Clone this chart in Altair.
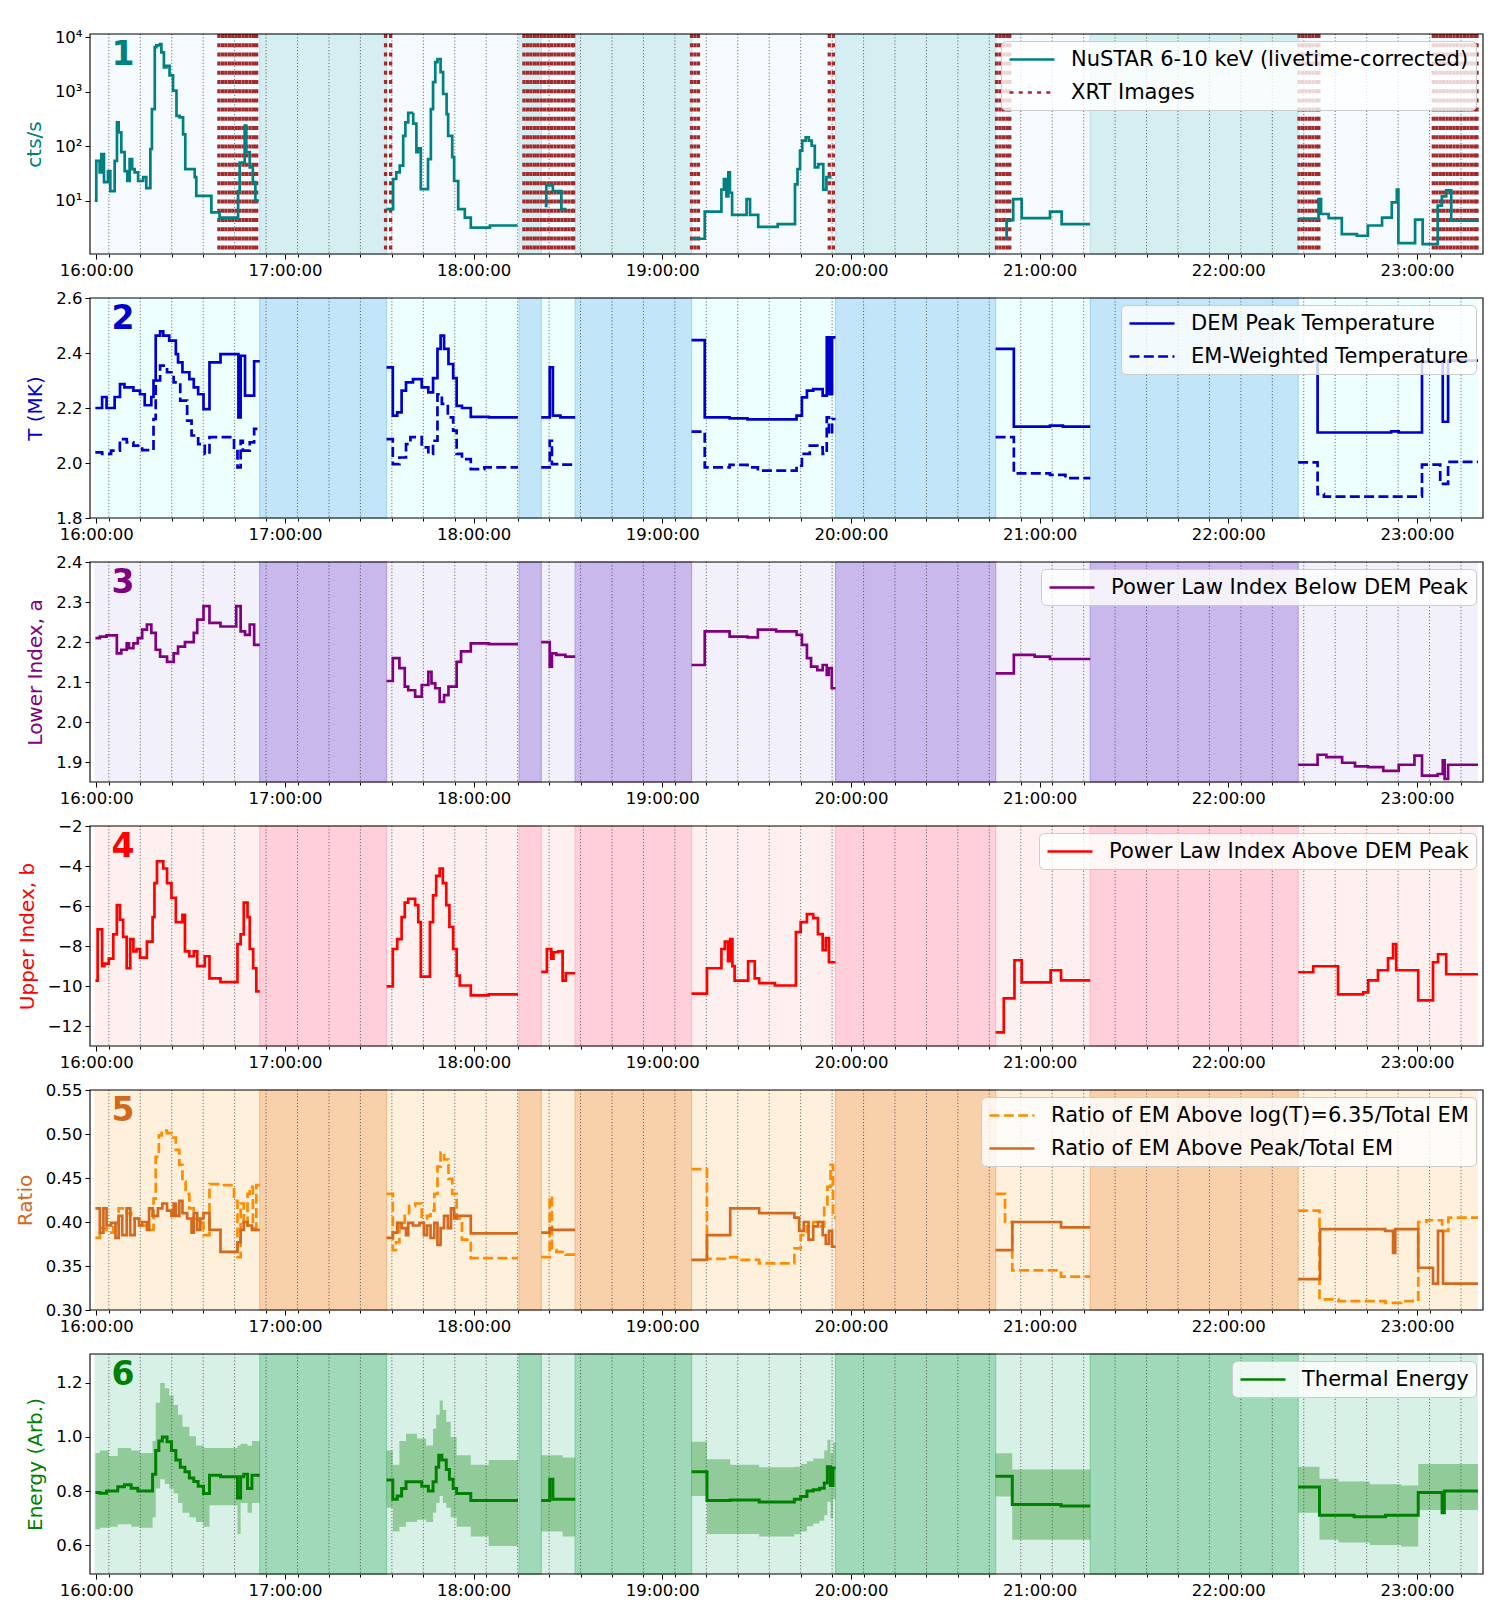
import altair as alt
import pandas as pd

FONT = "DejaVu Sans"
W, H = 1393, 220
XDOM = [-2.0, 441.0]

# ---------------- time layout (minutes after 16:00:00) ----------------
LIGHT_SPANS = [(-0.6, 52.0), (92.3, 134.5), (141.5, 152.3), (189.3, 235.1), (286.0, 316.1), (382.2, 439.4)]
DARK_SPANS = [(52.0, 92.3), (134.5, 141.5), (152.3, 189.3), (235.1, 286.0), (316.1, 382.2)]
HOUR_TICKS = [0, 60, 120, 180, 240, 300, 360, 420]
MINOR_TICKS = [4, 14, 24, 34, 44, 54, 64, 74, 84, 94, 104, 114, 124, 134, 144, 154, 164, 174, 184, 194,
               204, 214, 224, 234, 244, 254, 264, 274, 284, 294, 304, 314, 324, 334, 344, 354, 364, 374,
               384, 394, 404, 414, 424, 434]

# ---------------- panel 1: NuSTAR 6-10 keV (cts/s) ----------------
NUSTAR = [
    [(-0.5, 10), (0.0, 54), (1.07, 33), (1.60, 72), (2.45, 22), (3.72, 35), (4.46, 15), (5.84, 54),
     (6.58, 275), (7.11, 180), (7.96, 78), (9.02, 35), (9.87, 23), (10.6, 58), (11.4, 38), (12.2, 33),
     (13.3, 23), (14.9, 27), (15.9, 17), (17.2, 89), (17.7, 480), (18.6, 6600), (19.1, 7100),
     (20.2, 7500), (20.7, 5300), (21.5, 2800), (22.3, 3000), (23.3, 2000), (24.4, 1050), (25.5, 360),
     (26.5, 340), (27.6, 165), (28.3, 38), (31.3, 27), (31.8, 12.3), (36.6, 6.1), (39.2, 4.9),
     (45.1, 15), (45.6, 50), (47.2, 240), (47.7, 78), (48.8, 41), (49.8, 22), (50.6, 10), (51.7, 10)],
    [(92.3, 7.0), (94.4, 25), (95.4, 33), (96.5, 44), (97.6, 155), (98.3, 275), (99.2, 410),
     (100.8, 260), (101.8, 78), (102.3, 91), (103.2, 16.3), (105.5, 58), (106.4, 480), (107.1, 1500),
     (107.8, 3500), (108.5, 4000), (109.5, 2300), (110.3, 910), (111.4, 390), (111.9, 155),
     (113.2, 63), (113.8, 23), (115.1, 7.0), (117.2, 4.9), (119.1, 3.2), (125.2, 3.5), (134.0, 3.5)],
    [(142.6, 8), (143.1, 19), (145.2, 15), (147.9, 7), (149.5, 7)],
    [(189.3, 2.0), (193.5, 6.3), (198.8, 16), (199.6, 25), (200.4, 12), (201.0, 33), (201.5, 14),
     (202.2, 5.5), (206.8, 10.7), (207.9, 5.5), (210.5, 3.3), (216.7, 3.7), (222.2, 20), (223.0, 38),
     (223.8, 83), (224.5, 127), (225.6, 145), (226.6, 127), (227.5, 102), (228.5, 41), (229.6, 47),
     (231.2, 16), (232.2, 27), (233.8, 27)],
    [(289.0, 2.0), (289.5, 4.4), (291.6, 10.7), (294.3, 4.8), (303.3, 6.3), (307.0, 3.7), (316.0, 3.7)],
    [(382.3, 4.7), (388.7, 10.7), (389.5, 5.7), (391.9, 4.8), (396.1, 2.44), (400.9, 2.27), (404.4, 3.5),
     (408.9, 4.9), (412.0, 9.3), (413.6, 16), (414.1, 1.66), (419.4, 4.5), (421.8, 1.6), (426.6, 8.1),
     (427.9, 12), (429.3, 15.5), (430.9, 4.3), (439.6, 4.3)],
]
XRT_TIMES = [39.0, 40.1, 41.2, 42.3, 43.4, 44.5, 45.6, 46.7, 47.8, 48.9, 50.0, 51.0,
             92.0, 93.6,
             136.0, 137.1, 138.2, 139.3, 140.4, 141.5, 142.6, 143.7, 144.8, 145.9, 147.0, 148.1,
             149.2, 150.3, 151.4, 151.8,
             189.3, 190.4, 191.5,
             233.1, 234.4,
             286.3, 287.4, 288.5, 289.6, 290.5,
             382.5, 383.6, 384.7, 385.8, 386.9, 388.0, 388.8,
             425.2, 426.3, 427.4, 428.5, 429.6, 430.7, 431.8, 432.9, 434.0, 435.1, 436.2, 437.3,
             438.4, 439.1]

# ---------------- panel 2: temperatures (MK) ----------------
T_PEAK = [
    [(-0.3, 2.20), (1.85, 2.24), (3.27, 2.20), (5.83, 2.24), (7.54, 2.287), (8.96, 2.275), (11.8, 2.263),
     (13.9, 2.25), (15.4, 2.21), (17.5, 2.24), (18.2, 2.30), (18.9, 2.463), (20.3, 2.479), (21.3, 2.463),
     (23.2, 2.445), (25.3, 2.396), (26.0, 2.366), (27.4, 2.33), (29.6, 2.305), (31.0, 2.275), (32.4, 2.25),
     (34.1, 2.196), (36.0, 2.366), (39.5, 2.396), (45.2, 2.166), (45.9, 2.39), (47.3, 2.245),
     (50.2, 2.37), (52.0, 2.37)],
    [(92.3, 2.348), (94.3, 2.172), (95.7, 2.184), (97.1, 2.263), (98.5, 2.293), (100.7, 2.305),
     (103.5, 2.275), (105.6, 2.257), (107.1, 2.309), (108.5, 2.415), (109.5, 2.463), (110.6, 2.415),
     (112.0, 2.36), (113.5, 2.309), (114.6, 2.208), (116.3, 2.20), (119.1, 2.168), (124.8, 2.166),
     (134.1, 2.166)],
    [(141.5, 2.166), (144.2, 2.348), (145.2, 2.172), (147.6, 2.166), (152.3, 2.166)],
    [(189.3, 2.447), (193.5, 2.166), (201.4, 2.162), (207.1, 2.159), (222.7, 2.172), (224.4, 2.239),
     (226.0, 2.263), (228.0, 2.269), (231.0, 2.245), (232.3, 2.457), (232.7, 2.25), (233.1, 2.457),
     (233.6, 2.25), (234.0, 2.457), (235.1, 2.457)],
    [(286.0, 2.415), (291.8, 2.132), (303.3, 2.136), (307.4, 2.132), (316.1, 2.132)],
    [(382.2, 2.372), (388.4, 2.111), (411.8, 2.115), (414.2, 2.111), (421.6, 2.368), (428.2, 2.15),
     (429.9, 2.372), (439.4, 2.372)],
]
T_EM = [
    [(-0.3, 2.039), (1.85, 2.033), (4.7, 2.045), (7.5, 2.087), (9.7, 2.075), (11.8, 2.063), (14.6, 2.047),
     (18.2, 2.16), (18.9, 2.30), (20.3, 2.354), (22.5, 2.33), (24.6, 2.293), (26.7, 2.227), (28.9, 2.154),
     (30.3, 2.10), (32.4, 2.069), (34.5, 2.033), (36.0, 2.094), (43.8, 2.05), (44.9, 1.984),
     (45.9, 2.081), (46.6, 2.045), (48.8, 2.075), (50.2, 2.124), (52.0, 2.124)],
    [(92.3, 2.087), (94.3, 1.996), (96.4, 2.02), (98.5, 2.069), (99.9, 2.094), (103.5, 2.057),
     (105.6, 2.033), (107.1, 2.081), (108.5, 2.25), (109.9, 2.215), (111.8, 2.166), (113.5, 2.118),
     (114.6, 2.033), (116.3, 2.014), (119.1, 1.978), (123.4, 1.984), (134.1, 1.984)],
    [(141.5, 1.984), (144.2, 2.081), (144.9, 1.996), (147.6, 1.994), (152.3, 1.994)],
    [(189.3, 2.114), (193.5, 1.984), (201.4, 1.993), (207.1, 1.984), (210.4, 1.972), (222.7, 1.99),
     (224.4, 2.033), (226.9, 2.063), (229.3, 2.057), (231.0, 2.033), (232.3, 2.166), (233.0, 2.105),
     (234.0, 2.16), (235.1, 2.16)],
    [(286.0, 2.094), (291.8, 1.962), (303.3, 1.957), (308.2, 1.945), (316.1, 1.945)],
    [(382.2, 2.002), (388.4, 1.887), (390.4, 1.878), (421.6, 1.994), (427.4, 1.924), (429.9, 2.004),
     (439.4, 2.004)],
]

# ---------------- panel 3: lower power-law index ----------------
LOWER = [
    [(-0.28, 2.21), (1.14, 2.214), (3.27, 2.217), (6.54, 2.172), (7.96, 2.181), (9.67, 2.197), (10.4, 2.185),
     (11.8, 2.197), (13.2, 2.21), (14.6, 2.231), (16.1, 2.244), (17.5, 2.223), (18.9, 2.181), (20.3, 2.164),
     (22.5, 2.151), (24.6, 2.172), (26.0, 2.189), (28.2, 2.20), (31.0, 2.223), (32.1, 2.256), (34.1, 2.29),
     (36.0, 2.248), (39.5, 2.239), (44.5, 2.29), (45.9, 2.227), (47.3, 2.218), (48.8, 2.244),
     (50.2, 2.193), (52.0, 2.193)],
    [(92.3, 2.103), (94.3, 2.16), (96.4, 2.135), (98.1, 2.089), (99.2, 2.08), (101.4, 2.064), (103.5, 2.093),
     (105.6, 2.126), (106.6, 2.097), (107.8, 2.085), (109.2, 2.051), (110.6, 2.068), (112.0, 2.089),
     (114.6, 2.151), (116.0, 2.177), (119.1, 2.197), (124.8, 2.195), (134.1, 2.195)],
    [(141.5, 2.20), (144.2, 2.139), (144.9, 2.172), (146.3, 2.168), (149.2, 2.164), (152.3, 2.164)],
    [(189.3, 2.143), (193.5, 2.227), (201.4, 2.214), (207.1, 2.212), (210.4, 2.231), (216.2, 2.227),
     (222.7, 2.218), (224.4, 2.193), (226.0, 2.16), (227.3, 2.139), (229.3, 2.13), (231.0, 2.143),
     (232.3, 2.118), (232.9, 2.135), (233.9, 2.085), (235.1, 2.085)],
    [(286.0, 2.122), (291.8, 2.168), (298.4, 2.164), (303.3, 2.158), (316.1, 2.158)],
    [(382.2, 1.894), (388.4, 1.919), (391.2, 1.913), (396.2, 1.899), (400.3, 1.890), (404.4, 1.888),
     (409.3, 1.879), (414.2, 1.894), (419.2, 1.917), (421.6, 1.867), (426.6, 1.871), (428.2, 1.905),
     (428.8, 1.859), (429.9, 1.894), (439.4, 1.894)],
]

# ---------------- panel 4: upper power-law index ----------------
UPPER = [
    [(-0.28, -9.72), (0.43, -7.16), (1.85, -8.99), (2.56, -8.87), (3.98, -8.62), (5.40, -7.41), (6.54, -5.95),
     (7.54, -6.68), (8.53, -7.53), (9.67, -9.1), (10.8, -7.65), (11.8, -8.26), (12.8, -8.14), (13.9, -8.57),
     (16.1, -7.77), (17.9, -6.55), (18.5, -4.85), (19.3, -3.76), (21.3, -4.12), (22.5, -4.85), (23.9, -5.58),
     (25.3, -6.8), (27.4, -6.43), (28.2, -8.26), (29.6, -8.5), (31.0, -8.26), (32.1, -8.99), (34.5, -8.5),
     (36.0, -9.6), (39.5, -9.79), (44.9, -7.9), (45.9, -7.41), (46.9, -5.82), (48.1, -6.55), (48.8, -8.14),
     (49.9, -9.1), (50.9, -10.25), (52.0, -10.25)],
    [(92.3, -10.0), (94.3, -8.14), (95.7, -7.65), (97.1, -6.55), (98.1, -5.82), (99.2, -5.63), (101.4, -5.95),
     (102.4, -6.8), (103.2, -9.52), (106.1, -6.8), (107.1, -5.46), (108.1, -4.49), (109.2, -4.12),
     (110.2, -4.85), (111.3, -5.95), (112.3, -7.04), (113.5, -8.14), (114.6, -9.47), (115.6, -9.96),
     (119.1, -10.45), (124.8, -10.4), (134.1, -10.4)],
    [(141.5, -9.28), (143.3, -8.14), (144.7, -8.62), (145.4, -8.3), (146.9, -8.26), (148.3, -9.72),
     (149.3, -9.35), (152.3, -9.35)],
    [(189.3, -10.37), (194.2, -9.1), (198.8, -8.14), (199.9, -7.77), (200.9, -8.75), (201.6, -7.65),
     (202.3, -8.99), (203.0, -9.72), (207.3, -8.75), (209.4, -9.6), (210.8, -9.84), (215.8, -9.96),
     (222.5, -7.3), (224.0, -6.8), (226.0, -6.4), (228.0, -6.6), (229.5, -7.4), (231.0, -8.2),
     (232.0, -7.6), (233.0, -8.8), (235.1, -8.8)],
    [(286.0, -12.3), (288.6, -10.6), (292.0, -8.7), (294.3, -9.8), (303.5, -9.2), (306.8, -9.7),
     (316.1, -9.7)],
    [(382.2, -9.3), (387.0, -9.0), (394.9, -10.4), (402.9, -10.3), (404.5, -9.7), (407.6, -9.2),
     (410.8, -8.6), (412.4, -7.9), (413.4, -9.2), (420.4, -10.7), (425.1, -8.8), (426.7, -8.4),
     (429.3, -9.4), (439.4, -9.4)],
]

# ---------------- panel 5: EM ratios ----------------
RATIO_635 = [
    [(-0.28, 0.382), (1.14, 0.393), (3.27, 0.388), (5.40, 0.399), (7.11, 0.4155), (9.67, 0.41), (11.1, 0.404),
     (13.6, 0.396), (16.8, 0.391), (18.2, 0.4265), (18.9, 0.474), (19.9, 0.4985), (20.8, 0.504),
     (22.5, 0.501), (23.9, 0.496), (25.3, 0.482), (26.4, 0.465), (27.4, 0.446), (28.4, 0.432),
     (29.6, 0.4155), (31.0, 0.404), (32.4, 0.399), (34.1, 0.385), (36.0, 0.443), (39.5, 0.442),
     (43.8, 0.424), (44.9, 0.360), (45.9, 0.421), (46.9, 0.396), (48.1, 0.432), (48.8, 0.44),
     (49.8, 0.393), (50.9, 0.442), (52.0, 0.442)],
    [(92.3, 0.432), (94.3, 0.368), (95.3, 0.377), (96.4, 0.399), (98.1, 0.41), (99.5, 0.418), (101.4, 0.421),
     (103.5, 0.404), (105.2, 0.407), (106.3, 0.413), (107.5, 0.432), (108.5, 0.463), (109.5, 0.479),
     (110.6, 0.471), (112.0, 0.449), (113.2, 0.432), (114.6, 0.404), (116.3, 0.380), (119.1, 0.359),
     (134.1, 0.359)],
    [(141.5, 0.360), (144.2, 0.429), (144.9, 0.368), (146.3, 0.366), (149.2, 0.363), (152.3, 0.363)],
    [(189.3, 0.46), (194.2, 0.358), (201.6, 0.36), (203.7, 0.357), (210.8, 0.353), (222.0, 0.37),
     (224.0, 0.385), (226.0, 0.395), (228.0, 0.40), (230.0, 0.395), (231.5, 0.42), (232.5, 0.44),
     (233.5, 0.465), (234.3, 0.405), (235.1, 0.405)],
    [(286.0, 0.432), (289.0, 0.40), (291.3, 0.345), (306.8, 0.338), (316.1, 0.338)],
    [(382.2, 0.413), (389.0, 0.312), (395.0, 0.31), (410.0, 0.308), (415.0, 0.31), (420.4, 0.40),
     (423.0, 0.402), (428.0, 0.39), (430.0, 0.405), (439.4, 0.405)],
]
RATIO_PEAK = [
    [(-0.28, 0.4155), (1.14, 0.388), (2.27, 0.4155), (3.27, 0.396), (4.69, 0.399), (6.11, 0.382), (7.11, 0.407),
     (8.25, 0.385), (9.67, 0.4155), (10.8, 0.385), (12.2, 0.404), (13.6, 0.396), (14.6, 0.40), (16.1, 0.391),
     (16.8, 0.4155), (17.9, 0.407), (19.6, 0.4155), (21.0, 0.421), (22.5, 0.413), (23.9, 0.407),
     (24.6, 0.421), (25.3, 0.407), (26.4, 0.424), (27.4, 0.41), (28.9, 0.404), (30.3, 0.388), (31.0, 0.41),
     (32.1, 0.391), (33.1, 0.404), (34.1, 0.41), (36.0, 0.391), (39.5, 0.366), (44.9, 0.377),
     (45.9, 0.391), (46.9, 0.40), (48.1, 0.396), (49.5, 0.391), (52.0, 0.391)],
    [(92.3, 0.382), (94.3, 0.388), (95.7, 0.399), (97.1, 0.393), (98.5, 0.385), (99.2, 0.399),
     (100.7, 0.396), (102.8, 0.399), (104.2, 0.385), (105.2, 0.396), (106.3, 0.382), (107.5, 0.399),
     (108.5, 0.374), (109.5, 0.393), (110.6, 0.407), (111.8, 0.393), (112.8, 0.4155), (113.8, 0.404),
     (114.6, 0.407), (119.1, 0.387), (134.1, 0.387)],
    [(141.5, 0.388), (144.2, 0.393), (144.9, 0.391), (152.3, 0.391)],
    [(189.3, 0.357), (194.2, 0.385), (201.6, 0.4155), (210.8, 0.41), (222.0, 0.405), (223.5, 0.39),
     (225.0, 0.40), (226.5, 0.38), (228.0, 0.395), (229.5, 0.40), (231.0, 0.385), (232.0, 0.375),
     (233.0, 0.39), (234.0, 0.372), (235.1, 0.372)],
    [(286.0, 0.368), (291.3, 0.40), (306.8, 0.394), (316.1, 0.394)],
    [(382.2, 0.335), (389.2, 0.392), (409.9, 0.39), (412.4, 0.365), (413.1, 0.392), (420.4, 0.348),
     (425.1, 0.33), (426.7, 0.39), (428.3, 0.33), (439.4, 0.33)],
]

# ---------------- panel 6: thermal energy ----------------
ENERGY = [
    [(-0.28, 0.795), (1.14, 0.792), (3.27, 0.80), (6.82, 0.816), (8.96, 0.823), (11.1, 0.81), (13.2, 0.80),
     (17.9, 0.862), (18.9, 0.95), (19.9, 0.985), (21.0, 1.0), (22.5, 0.982), (23.9, 0.95), (25.3, 0.915),
     (26.7, 0.888), (28.2, 0.871), (29.6, 0.848), (31.0, 0.835), (32.4, 0.818), (34.1, 0.791),
     (36.0, 0.858), (39.5, 0.853), (44.9, 0.774), (45.9, 0.853), (46.9, 0.862), (48.1, 0.809),
     (49.5, 0.858), (52.0, 0.858)],
    [(92.3, 0.841), (94.3, 0.77), (95.7, 0.782), (97.1, 0.809), (98.5, 0.834), (101.4, 0.834), (103.5, 0.818),
     (105.6, 0.80), (107.1, 0.834), (108.1, 0.888), (108.9, 0.932), (109.9, 0.915), (111.3, 0.88),
     (112.3, 0.844), (113.5, 0.809), (114.6, 0.791), (119.1, 0.765), (134.1, 0.765)],
    [(141.5, 0.765), (144.2, 0.844), (145.2, 0.77), (152.3, 0.77)],
    [(189.3, 0.871), (194.2, 0.765), (201.6, 0.767), (210.8, 0.759), (222.0, 0.77), (224.0, 0.78),
     (226.0, 0.80), (228.0, 0.805), (230.0, 0.81), (231.5, 0.83), (232.5, 0.89), (233.5, 0.82),
     (234.3, 0.885), (235.1, 0.885)],
    [(286.0, 0.855), (291.3, 0.75), (306.8, 0.745), (316.1, 0.745)],
    [(382.2, 0.815), (389.0, 0.71), (400.0, 0.705), (410.0, 0.71), (420.4, 0.795), (428.0, 0.72),
     (428.7, 0.80), (439.4, 0.80)],
]
# (time, lower bound, upper bound)
ENERGY_BAND = [
    [(-0.28, 0.659, 0.941), (1.14, 0.664, 0.95), (3.98, 0.668, 0.93), (6.82, 0.677, 0.959), (11.1, 0.668, 0.95),
     (13.9, 0.664, 0.941), (17.9, 0.703, 0.985), (18.9, 0.809, 1.127), (20.3, 0.844, 1.20),
     (21.8, 0.826, 1.18), (23.2, 0.809, 1.153), (24.6, 0.791, 1.118), (26.0, 0.756, 1.082),
     (27.4, 0.72, 1.038), (29.6, 0.703, 1.003), (31.7, 0.685, 0.968), (34.1, 0.668, 0.959),
     (36.0, 0.747, 0.959), (44.9, 0.641, 0.968), (45.9, 0.756, 0.975), (48.1, 0.72, 0.968),
     (49.5, 0.756, 0.985), (52.0, 0.756, 0.985)],
    [(92.3, 0.738, 0.95), (94.3, 0.65, 0.897), (96.4, 0.668, 0.985), (98.5, 0.685, 1.012), (102.0, 0.694, 0.994),
     (104.9, 0.685, 0.968), (107.1, 0.72, 1.03), (108.1, 0.756, 1.082), (109.2, 0.782, 1.135),
     (110.2, 0.756, 1.10), (111.3, 0.738, 1.056), (112.7, 0.703, 1.0), (114.6, 0.668, 0.932),
     (119.1, 0.632, 0.897), (124.8, 0.597, 0.915), (134.1, 0.597, 0.915)],
    [(141.5, 0.65, 0.932), (148.3, 0.632, 0.924), (152.3, 0.632, 0.924)],
    [(189.3, 0.782, 0.982), (194.2, 0.641, 0.918), (201.6, 0.641, 0.897), (210.8, 0.632, 0.888),
     (222.0, 0.64, 0.89), (224.0, 0.65, 0.90), (226.0, 0.67, 0.91), (228.0, 0.68, 0.92), (230.0, 0.69, 0.92),
     (231.5, 0.71, 0.95), (232.5, 0.76, 0.99), (233.5, 0.70, 0.94), (234.3, 0.77, 0.98), (235.1, 0.77, 0.98)],
    [(286.0, 0.78, 0.94), (291.3, 0.62, 0.88), (316.1, 0.62, 0.88)],
    [(382.2, 0.72, 0.89), (389.0, 0.62, 0.845), (395.0, 0.61, 0.835), (405.0, 0.60, 0.825),
     (415.0, 0.595, 0.82), (420.4, 0.73, 0.90), (439.4, 0.73, 0.90)],
]


def seg_rows(segs, name):
    out = []
    for i, seg in enumerate(segs):
        for t, v in seg:
            out.append({"t": t, "v": v, "seg": f"{name}-{i}", "series": name})
    return out


def band_rows(segs):
    out = []
    for i, seg in enumerate(segs):
        for t, lo, hi in seg:
            out.append({"t": t, "lo": lo, "hi": hi, "seg": i})
    return out


TICK_FS = 16.5
XSCALE = alt.Scale(domain=XDOM, nice=False, zero=False)
X_AXIS = alt.Axis(
    values=sorted(HOUR_TICKS + MINOR_TICKS),
    labelExpr="datum.value % 60 == 0 ? (16 + datum.value / 60) + ':00:00' : ''",
    labelOverlap=False, labelFlush=False, grid=False, domain=False,
    tickColor="black", tickWidth=1,
    tickSize={"condition": {"test": "datum.value % 60 == 0", "value": 5}, "value": 3},
    labelFont=FONT, labelFontSize=TICK_FS, labelColor="black", labelPadding=3, title=None,
)


def y_axis(title, color, values, fmt=None, expr=None):
    kw = dict(values=values, title=title, titleColor=color, titleFont=FONT, titleFontSize=20,
              titleFontWeight="normal", titlePadding=10, grid=False, domain=False, tickColor="black",
              tickSize=5, tickWidth=1, labelFont=FONT, labelFontSize=TICK_FS, labelColor="black",
              labelPadding=3, labelFlush=False, labelOverlap=False)
    if fmt:
        kw["format"] = fmt
    if expr:
        kw["labelExpr"] = expr
    return alt.Axis(**kw)


def legend():
    # custom line symbol: 45 px long, drawn right of the symbol slot
    return alt.Legend(title=None, orient="top-right", offset=7, padding=7,
                      fillColor="rgba(255,255,255,0.8)", strokeColor="#cccccc", cornerRadius=5,
                      labelFont=FONT, labelFontSize=21, labelLimit=800, labelOffset=40,
                      symbolType="M-1,0H3.5", symbolSize=400, symbolStrokeWidth=2.7, rowPadding=11)


def background(light, dark, edge):
    xl = alt.X("a:Q", scale=XSCALE, axis=X_AXIS)
    lt = alt.Chart(pd.DataFrame(LIGHT_SPANS, columns=["a", "b"])).mark_rect(color=light).encode(
        x=xl, x2="b:Q")
    dk = alt.Chart(pd.DataFrame(DARK_SPANS, columns=["a", "b"])).mark_rect(
        color=dark, stroke=edge, strokeWidth=1.2).encode(x=xl, x2="b:Q")
    grid = alt.Chart(pd.DataFrame({"g": MINOR_TICKS})).mark_rule(
        color="#333333", strokeWidth=0.8, strokeDash=[1.2, 2.0], opacity=0.85).encode(
        x=alt.X("g:Q", scale=XSCALE, axis=X_AXIS))
    return [lt, dk, grid]


def overlay(num, color):
    frame = alt.Chart(pd.DataFrame({"k": [0]})).mark_rect(
        filled=False, stroke="black", strokeWidth=1.1).encode(
        x=alt.value(0), x2=alt.value(W), y=alt.value(0), y2=alt.value(H))
    label = alt.Chart(pd.DataFrame({"n": [str(num)]})).mark_text(
        font=FONT, fontSize=33, fontWeight="bold", color=color, align="center",
        baseline="alphabetic").encode(x=alt.value(33), y=alt.value(31), text="n:N")
    return [frame, label]


def line_layer(rows, yscale, yaxis, names, colors, dashes, width=2.7):
    return alt.Chart(pd.DataFrame(rows)).mark_line(interpolate="step-after", strokeWidth=width).encode(
        x=alt.X("t:Q", scale=XSCALE, axis=X_AXIS),
        y=alt.Y("v:Q", scale=yscale, axis=yaxis),
        color=alt.Color("series:N", scale=alt.Scale(domain=names, range=colors), legend=legend()),
        strokeDash=alt.StrokeDash("series:N", scale=alt.Scale(domain=names, range=dashes), legend=legend()),
        detail="seg:N",
    )


SOLID = [1, 0]
DASH = [10, 4.3]
DOT = [4, 5.2]

# ---- panel 1
n1, n2 = "NuSTAR 6-10 keV (livetime-corrected)", "XRT Images"
ys1 = alt.Scale(type="log", domain=[1.05, 11500], nice=False)
ya1 = y_axis("cts/s", "#008080", [10, 100, 1000, 10000],
             expr="datum.value == 10 ? '10\u00b9' : datum.value == 100 ? '10\u00b2' : "
                  "datum.value == 1000 ? '10\u00b3' : '10\u2074'")
xrt = alt.Chart(pd.DataFrame({"t": XRT_TIMES, "series": n2})).mark_rule(strokeWidth=3.3).encode(
    x=alt.X("t:Q", scale=XSCALE, axis=X_AXIS),
    color=alt.Color("series:N", scale=alt.Scale(domain=[n1, n2], range=["#008080", "#a52a2a"]), legend=legend()),
    strokeDash=alt.StrokeDash("series:N", scale=alt.Scale(domain=[n1, n2], range=[SOLID, DOT]), legend=legend()),
)
nu = line_layer(seg_rows(NUSTAR, n1), ys1, ya1, [n1, n2], ["#008080", "#a52a2a"], [SOLID, DOT])
p1 = alt.layer(*background("#f5faff", "#d4eef1", "#bfe4ea"), xrt, nu, *overlay(1, "#008080")).properties(
    width=W, height=H)

# ---- panel 2
a, b = "DEM Peak Temperature", "EM-Weighted Temperature"
ys2 = alt.Scale(domain=[1.8, 2.6], nice=False, zero=False)
ya2 = y_axis("T (MK)", "#0000cd", [1.8, 2.0, 2.2, 2.4, 2.6], fmt=".1f")
t_rows = seg_rows(T_PEAK, a) + seg_rows(T_EM, b)
p2 = alt.layer(*background("#eeffff", "#c2e5fa", "#a6d6f4"),
               line_layer(t_rows, ys2, ya2, [a, b], ["#0000cd", "#0000cd"], [SOLID, DASH]),
               *overlay(2, "#0000cd")).properties(width=W, height=H)

# ---- panel 3
a3 = "Power Law Index Below DEM Peak"
ys3 = alt.Scale(domain=[1.851, 2.4], nice=False, zero=False)
ya3 = y_axis("Lower Index, a", "#800080", [1.9, 2.0, 2.1, 2.2, 2.3, 2.4], fmt=".1f")
p3 = alt.layer(*background("#f2f1fb", "#c8b8eb", "#b29fe0"),
               line_layer(seg_rows(LOWER, a3), ys3, ya3, [a3], ["#800080"], [SOLID]),
               *overlay(3, "#800080")).properties(width=W, height=H)

# ---- panel 4
a4 = "Power Law Index Above DEM Peak"
ys4 = alt.Scale(domain=[-12.98, -2], nice=False, zero=False)
ya4 = y_axis("Upper Index, b", "#ff0000", [-12, -10, -8, -6, -4, -2], fmt="d")
p4 = alt.layer(*background("#fff0f0", "#ffd0da", "#ffb9c8"),
               line_layer(seg_rows(UPPER, a4), ys4, ya4, [a4], ["#ff0000"], [SOLID]),
               *overlay(4, "#ff0000")).properties(width=W, height=H)

# ---- panel 5
a5, b5 = "Ratio of EM Above log(T)=6.35/Total EM", "Ratio of EM Above Peak/Total EM"
ys5 = alt.Scale(domain=[0.30, 0.55], nice=False, zero=False)
ya5 = y_axis("Ratio", "#d2691e", [0.30, 0.35, 0.40, 0.45, 0.50, 0.55], fmt=".2f")
r_rows = seg_rows(RATIO_635, a5) + seg_rows(RATIO_PEAK, b5)
p5 = alt.layer(*background("#fff0dc", "#f8d0aa", "#f1bb8c"),
               line_layer(r_rows, ys5, ya5, [a5, b5], ["#ff8c00", "#d2691e"], [DASH, SOLID]),
               *overlay(5, "#d2691e")).properties(width=W, height=H)

# ---- panel 6
a6 = "Thermal Energy"
ys6 = alt.Scale(domain=[0.493, 1.307], nice=False, zero=False)
ya6 = y_axis("Energy (Arb.)", "#008000", [0.6, 0.8, 1.0, 1.2], fmt=".1f")
band = alt.Chart(pd.DataFrame(band_rows(ENERGY_BAND))).mark_area(
    interpolate="step-after", color="#008000", opacity=0.33).encode(
    x=alt.X("t:Q", scale=XSCALE, axis=X_AXIS),
    y=alt.Y("lo:Q", scale=ys6, axis=ya6),
    y2="hi:Q",
    detail="seg:N",
)
p6 = alt.layer(*background("#d8f1e6", "#a0d9b9", "#82cca2"), band,
               line_layer(seg_rows(ENERGY, a6), ys6, ya6, [a6], ["#008000"], [SOLID], width=3.0),
               *overlay(6, "#008000")).properties(width=W, height=H)

chart = alt.vconcat(p1, p2, p3, p4, p5, p6, spacing=44, bounds="flush").resolve_scale(
    x="independent", y="independent", color="independent", strokeDash="independent"
).resolve_legend(color="independent", strokeDash="independent").properties(
    padding={"left": 6, "top": 20, "right": 5, "bottom": 5}
).configure(font=FONT).configure_view(stroke="transparent")

chart.save("out.html", embed_options={"renderer": "svg", "actions": False})
